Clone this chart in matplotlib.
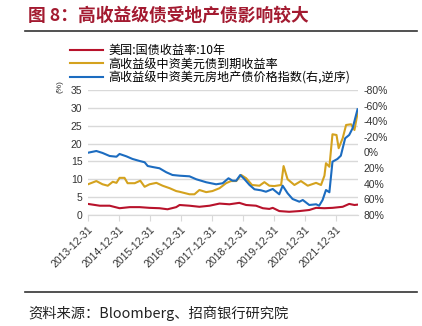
import numpy as np
import matplotlib.pyplot as plt
from matplotlib.lines import Line2D

plt.rcParams['font.family'] = ['Liberation Sans', 'Noto Sans CJK SC', 'DejaVu Sans']

# x values are decimal years (2014.0 == 2013-12-31)
red_t = [2014.00, 2014.38, 2014.70, 2015.02, 2015.35, 2015.67, 2015.99, 2016.31, 2016.57,
         2016.85, 2016.96, 2017.28, 2017.60, 2017.93, 2018.25, 2018.57, 2018.89, 2019.11,
         2019.43, 2019.65, 2019.86, 2019.97, 2020.18, 2020.50, 2020.83, 2021.15, 2021.37,
         2021.64, 2021.90, 2022.23, 2022.44, 2022.61, 2022.71]
red_v = [3.1, 2.6, 2.6, 1.9, 2.2, 2.2, 2.0, 1.9, 1.6,
         2.2, 2.8, 2.6, 2.3, 2.6, 3.2, 3.0, 3.4, 2.8,
         2.6, 1.9, 1.7, 2.0, 1.1, 0.9, 1.1, 1.4, 2.0,
         1.9, 2.0, 2.3, 3.1, 2.8, 2.9]

gold_t = [2014.00, 2014.27, 2014.47, 2014.64, 2014.80, 2014.92, 2015.02, 2015.18, 2015.28,
          2015.51, 2015.69, 2015.83, 2015.99, 2016.21, 2016.41, 2016.64, 2016.85, 2016.96,
          2017.28, 2017.44, 2017.60, 2017.82, 2018.02, 2018.25, 2018.46, 2018.62, 2018.79,
          2018.95, 2019.11, 2019.30, 2019.54, 2019.70, 2019.86, 2020.02, 2020.24, 2020.32,
          2020.45, 2020.67, 2020.88, 2021.10, 2021.37, 2021.53, 2021.64, 2021.69, 2021.80,
          2021.90, 2022.03, 2022.10, 2022.23, 2022.34, 2022.50, 2022.61, 2022.71]
gold_v = [8.6, 9.5, 8.6, 8.2, 9.3, 9.0, 10.4, 10.4, 8.9,
          8.9, 9.6, 7.9, 8.6, 9.0, 8.2, 7.5, 6.7, 6.5,
          5.8, 5.8, 7.0, 6.4, 6.7, 7.5, 8.9, 9.5, 9.5,
          11.2, 10.3, 8.4, 8.2, 9.2, 8.2, 8.1, 8.4, 13.7,
          10.0, 8.4, 9.5, 8.2, 9.0, 8.4, 11.0, 14.5, 13.5,
          22.6, 22.4, 18.7, 21.5, 25.2, 25.4, 23.8, 28.5]

blue_t = [2014.00, 2014.27, 2014.47, 2014.70, 2014.92, 2015.02, 2015.24, 2015.44, 2015.67,
          2015.83, 2015.93, 2016.09, 2016.31, 2016.53, 2016.73, 2016.96, 2017.28, 2017.50,
          2017.82, 2018.14, 2018.35, 2018.54, 2018.67, 2018.79, 2018.92, 2019.05, 2019.22,
          2019.38, 2019.59, 2019.75, 2019.97, 2020.18, 2020.29, 2020.45, 2020.61, 2020.83,
          2020.94, 2021.15, 2021.37, 2021.47, 2021.58, 2021.69, 2021.80, 2021.90, 2022.06,
          2022.17, 2022.31, 2022.44, 2022.55, 2022.71]
blue_v = [0.3, -1.9, 0.6, 4.5, 5.4, 1.9, 4.9, 8.3, 10.9,
          12.5, 17.3, 18.6, 20.2, 25.3, 28.8, 29.7, 30.5, 34.3,
          38.1, 40.7, 39.4, 33.0, 36.1, 36.1, 28.8, 33.9, 41.6,
          47.1, 48.4, 50.2, 46.7, 53.5, 42.5, 52.2, 59.5, 63.0,
          60.8, 67.2, 66.3, 68.1, 60.8, 48.0, 50.9, 11.8, 8.3,
          4.1, -18.2, -22.4, -31.0, -55.3]

tick_pos = [2014, 2015, 2016, 2017, 2018, 2019, 2020, 2021, 2022]
tick_labels = ['2013-12-31', '2014-12-31', '2015-12-31', '2016-12-31', '2017-12-31',
               '2018-12-31', '2019-12-31', '2020-12-31', '2021-12-31']

fig = plt.figure(figsize=(4.22, 3.26), dpi=100)
ax = fig.add_axes([0.2085, 0.3405, 0.6395, 0.3835])
ax2 = ax.twinx()

c_red, c_gold, c_blue = '#B8122B', '#D4A21E', '#1C6CC0'
l1, = ax.plot(red_t, red_v, color=c_red, lw=1.5, label='美国:国债收益率:10年')
l2, = ax.plot(gold_t, gold_v, color=c_gold, lw=1.5, label='高收益级中资美元债到期收益率')
l3, = ax2.plot(blue_t, blue_v, color=c_blue, lw=1.5, label='高收益级中资美元房地产债价格指数(右,逆序)')

ax.set_xlim(2014.0, 2022.72)
ax.set_ylim(0, 35)
ax.set_yticks(range(0, 36, 5))
ax2.set_ylim(80, -80)
ax2.set_yticks(range(-80, 81, 20))
ax2.set_yticklabels([f'{v}%' for v in range(-80, 81, 20)])
ax.set_xticks(tick_pos)
ax.set_xticklabels(tick_labels, rotation=45, ha='right', rotation_mode='anchor')
ax.grid(axis='y', color='#D9D9D9', lw=1)
ax.set_axisbelow(True)

for a in (ax, ax2):
    for s in ('top', 'left', 'right'):
        a.spines[s].set_visible(False)
    a.spines['bottom'].set_color('#D9D9D9')
    a.tick_params(labelsize=7.5, colors='#333333', length=0, pad=4)
ax.tick_params(axis='x', length=4, color='#D9D9D9', pad=3)

fig.text(0.142, 0.735, '(%)', rotation=90, fontsize=6, color='#333333', ha='center', va='center')

fig.legend(handles=[l1, l2, l3], loc='upper left', bbox_to_anchor=(0.165, 0.865),
           frameon=False, handlelength=2.8, handletextpad=0.4,
           labelspacing=0.05, borderpad=0, borderaxespad=0,
           prop={'family': ['Noto Sans CJK SC'], 'size': 8.7})

fig.text(0.066, 0.952, '图 8：高收益级债受地产债影响较大', fontsize=12.8, fontweight='bold',
         color='#A31A30', va='center', family=['Noto Sans CJK SC'])
fig.add_artist(Line2D([0.059, 0.988], [0.905, 0.905], transform=fig.transFigure,
                      color='#333333', lw=1.2))
fig.add_artist(Line2D([0.059, 0.988], [0.104, 0.104], transform=fig.transFigure,
                      color='#333333', lw=1.2))
fig.text(0.066, 0.04, '资料来源：Bloomberg、招商银行研究院', fontsize=10.3, color='#222222',
         va='center', family=['Noto Sans CJK SC'])

plt.savefig('out.png', dpi=100)
